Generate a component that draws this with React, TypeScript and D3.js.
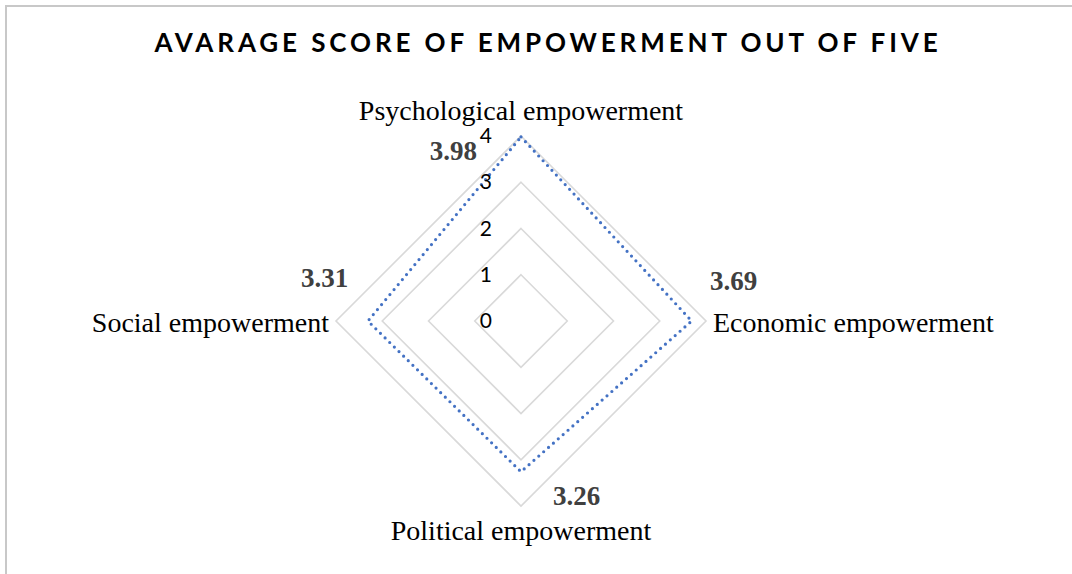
import * as d3 from "d3";

const WIDTH = 1072;
const HEIGHT = 574;

const categories = [
  "Psychological empowerment",
  "Economic empowerment",
  "Political empowerment",
  "Social empowerment",
];
const scores = [3.98, 3.69, 3.26, 3.31];
const ringTicks = [0, 1, 2, 3, 4];

const CX = 521;
const CY = 321;
const R = 185;

const App = () => {
  const r = d3.scaleLinear().domain([0, 4]).range([0, R]);
  const angle = (i: number) => (i * 2 * Math.PI) / categories.length;
  const pt = (i: number, v: number): [number, number] => [
    CX + Math.sin(angle(i)) * r(v),
    CY - Math.cos(angle(i)) * r(v),
  ];

  const ringPath = (v: number) =>
    d3.line()(categories.map((_, i) => pt(i, v))) + "Z";
  const dataPath = d3.line()(scores.map((v, i) => pt(i, v))) + "Z";

  const serif = "'Liberation Serif', 'Times New Roman', serif";
  const sans = "Lato, 'Open Sans', sans-serif";

  // label placement per axis: [dx, dy, anchor]
  const catPos: [number, number, string][] = [
    [0, -201, "middle"],
    [R + 7, 11, "start"],
    [0, 219, "middle"],
    [-R - 7, 11, "end"],
  ];
  const valPos: [number, number, string][] = [
    [-44, -161, "end"],
    [R + 4, -31, "start"],
    [32, 184, "start"],
    [-R - 35, -34, "start"],
  ];

  return (
    <svg
      width={WIDTH}
      height={HEIGHT}
      style={{ position: "absolute", left: 0, top: 0, background: "#fff" }}
    >
      <rect x={6} y={6} width={1100} height={600} fill="#fff" stroke="#c8c8c8" strokeWidth={2} />
      <text
        x={548}
        y={52}
        textAnchor="middle"
        fontFamily={sans}
        fontWeight="bold"
        fontSize={26}
        letterSpacing={3.9}
        fill="#000"
      >
        AVARAGE SCORE OF EMPOWERMENT OUT OF FIVE
      </text>

      {ringTicks.slice(1).map((t) => (
        <path key={t} d={ringPath(t)} fill="none" stroke="#d9d9d9" strokeWidth={1.6} />
      ))}

      <path
        d={dataPath}
        fill="none"
        stroke="#4472C4"
        strokeWidth={3.2}
        strokeDasharray="0 6.5"
        strokeLinecap="round"
      />

      {ringTicks.map((t) => (
        <text
          key={t}
          x={CX - 29}
          y={CY - r(t) + 7}
          textAnchor="end"
          fontFamily={sans}
          fontSize={21}
          fill="#000"
        >
          {t}
        </text>
      ))}

      {categories.map((c, i) => (
        <text
          key={c}
          x={CX + catPos[i][0]}
          y={CY + catPos[i][1]}
          textAnchor={catPos[i][2]}
          fontFamily={serif}
          fontSize={28}
          fill="#000"
        >
          {c}
        </text>
      ))}

      {scores.map((v, i) => (
        <text
          key={i}
          x={CX + valPos[i][0]}
          y={CY + valPos[i][1]}
          textAnchor={valPos[i][2]}
          fontFamily={serif}
          fontWeight="bold"
          fontSize={27}
          fill="#404040"
        >
          {v.toFixed(2)}
        </text>
      ))}
    </svg>
  );
};

export default App;
